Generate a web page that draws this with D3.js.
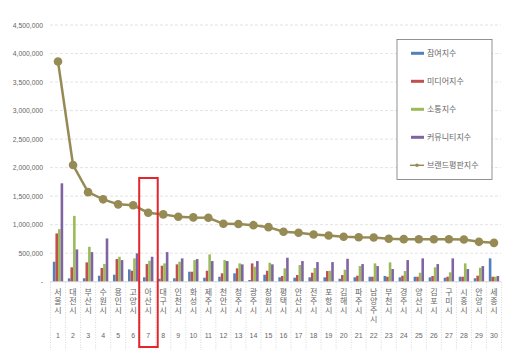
<!DOCTYPE html>
<html><head><meta charset="utf-8">
<script src="https://cdn.jsdelivr.net/npm/d3@7"></script>
<style>body{margin:0;background:#fff;}svg{display:block;font-family:"Noto Sans CJK KR","Noto Sans",sans-serif;}
.vlab{writing-mode:vertical-rl;text-orientation:upright;letter-spacing:1px;}</style>
</head><body><svg id="c" width="516" height="354"></svg>
<script>
const cities = ["서울시","대전시","부산시","수원시","용인시","고양시","아산시","대구시","인천시","화성시","제주시","천안시","청주시","광주시","창원시","평택시","안산시","전주시","포항시","김해시","파주시","남양주시","부천시","경주시","양산시","김포시","구미시","시흥시","안양시","세종시"];
const ranks = d3.range(1,31);
const participation = [350000,59000,60000,105000,122000,216000,77000,52000,60000,175000,70000,87000,147000,30000,122000,77000,70000,77000,77000,52000,77000,87000,100000,77000,87000,77000,70000,87000,60000,409000];
const media = [846000,252000,339000,240000,397000,192000,309000,280000,304000,175000,192000,147000,234000,321000,192000,100000,117000,157000,187000,117000,105000,87000,87000,105000,87000,100000,87000,87000,105000,87000];
const communication = [921000,1154000,612000,309000,437000,409000,367000,321000,350000,379000,479000,379000,321000,262000,332000,234000,292000,240000,192000,210000,274000,321000,339000,187000,157000,252000,164000,321000,245000,87000];
const community = [1725000,566000,519000,758000,379000,496000,437000,519000,409000,397000,362000,362000,304000,362000,304000,420000,362000,344000,344000,402000,309000,274000,222000,379000,409000,309000,409000,222000,274000,100000];
const brand = [3860000,2045000,1570000,1444000,1356000,1340000,1210000,1180000,1139000,1127000,1121000,1015000,1012000,991000,956000,875000,857000,827000,810000,787000,778000,775000,752000,746000,745000,744000,743000,739000,699000,681000];
const yTicks = [0,500000,1000000,1500000,2000000,2500000,3000000,3500000,4000000,4500000];
const seriesNames = ["참여지수","미디어지수","소통지수","커뮤니티지수"];
const lineName = "브랜드평판지수";
const colors = ["#4F81BD","#C0504D","#9BBB59","#8064A2"];
const lineColor = "#968B55";
const highlight = 7;

const svg = d3.select("#c");
const x = d3.scaleBand().domain(ranks).range([50.5,501.5]);
const y = d3.scaleLinear().domain([0,4500000]).range([281.7,25]);
const inner = d3.scaleBand().domain(d3.range(4)).range([0,x.bandwidth()]).paddingOuter(0.9);

// gridlines
svg.append("g").selectAll("line").data(yTicks.slice(1)).join("line")
  .attr("x1",50).attr("x2",501).attr("y1",d=>y(d)).attr("y2",d=>y(d))
  .attr("stroke","#dcdcdc").attr("stroke-width",0.8).attr("stroke-dasharray","3,2");

// y axis labels
const yAxis = d3.axisLeft(y).tickValues(yTicks).tickSize(0).tickPadding(0)
  .tickFormat(d=> d===0 ? "-" : d3.format(",")(d));
const ya = svg.append("g").attr("transform","translate(43,0)").call(yAxis);
ya.select(".domain").remove();
ya.selectAll("text").attr("fill","#666").attr("font-size","6.8px").attr("font-family","Liberation Sans, Arial, sans-serif");

// bars
const series = [participation,media,communication,community];
series.forEach((arr,si)=>{
  svg.append("g").selectAll("rect").data(arr).join("rect")
    .attr("x",(d,i)=>x(ranks[i])+inner(si))
    .attr("width",inner.bandwidth())
    .attr("y",d=>y(d)).attr("height",d=>y(0)-y(d))
    .attr("fill",colors[si]);
});

// axis baseline
svg.append("line").attr("x1",50).attr("x2",501).attr("y1",y(0)).attr("y2",y(0)).attr("stroke","#d0d0d0").attr("stroke-width",0.8);

// category separators
svg.append("g").selectAll("line").data(ranks.concat([31])).join("line")
  .attr("x1",d=> d<=30 ? x(d) : x(30)+x.bandwidth()).attr("x2",d=> d<=30 ? x(d) : x(30)+x.bandwidth())
  .attr("y1",282).attr("y2",350)
  .attr("stroke","#cfcfcf").attr("stroke-width",0.8).attr("stroke-dasharray","1,1.5");

// category labels (vertical, upright characters)
const lab = svg.append("g");
cities.forEach((c,i)=>{
  const cx = x(ranks[i])+x.bandwidth()/2;
  lab.append("text").attr("class","vlab").attr("x",cx).attr("y",287.5)
    .attr("fill","#666").attr("font-size","8px").text(c);
  lab.append("text").attr("x",cx).attr("y",338).attr("text-anchor","middle").attr("fill","#666")
    .attr("font-size","7px").attr("font-family","Liberation Sans, Arial, sans-serif").text(ranks[i]);
});

// line
const line = d3.line().x((d,i)=>x(ranks[i])+x.bandwidth()/2).y(d=>y(d));
svg.append("path").datum(brand).attr("d",line).attr("fill","none").attr("stroke",lineColor).attr("stroke-width",2.5);
svg.append("g").selectAll("circle").data(brand).join("circle")
  .attr("cx",(d,i)=>x(ranks[i])+x.bandwidth()/2).attr("cy",d=>y(d)).attr("r",4.3).attr("fill",lineColor);

// highlight rect
svg.append("rect").attr("x",x(highlight)-1.5).attr("width",x.bandwidth()+3.5)
  .attr("y",178).attr("height",169).attr("fill","none").attr("stroke","#e3262b").attr("stroke-width",2);

// legend
const lg = svg.append("g");
lg.append("rect").attr("x",397).attr("y",39.5).attr("width",95).attr("height",140).attr("fill","#fff").attr("stroke","#777").attr("stroke-width",0.8);
seriesNames.forEach((n,i)=>{
  const yy = 53.3 + i*28;
  lg.append("rect").attr("x",411).attr("y",yy-1.5).attr("width",13).attr("height",3).attr("fill",colors[i]);
  lg.append("text").attr("x",427).attr("y",yy+3).attr("font-size","8px").attr("fill","#666").text(n);
});
{
  const yy = 53.3 + 4*28;
  lg.append("line").attr("x1",410).attr("x2",424).attr("y1",yy).attr("y2",yy).attr("stroke",lineColor).attr("stroke-width",1.5);
  lg.append("circle").attr("cx",417).attr("cy",yy).attr("r",1.8).attr("fill",lineColor);
  lg.append("text").attr("x",427).attr("y",yy+3).attr("font-size","8px").attr("fill","#666").text(lineName);
}
</script></body></html>
